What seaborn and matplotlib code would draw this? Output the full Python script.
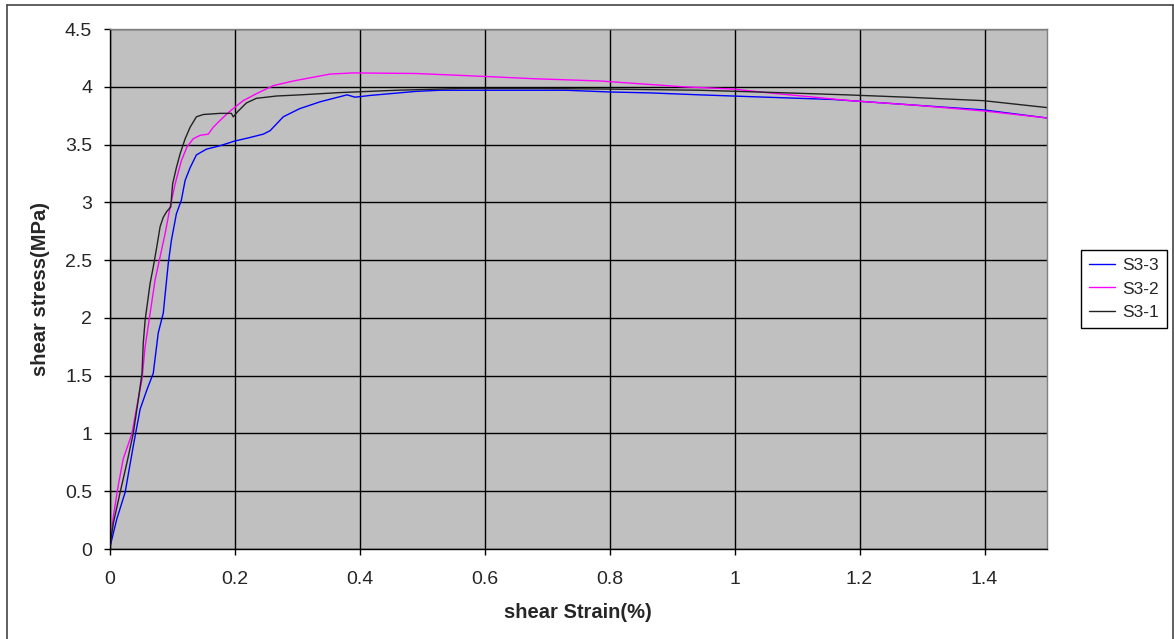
import matplotlib
matplotlib.use("Agg")
import matplotlib.pyplot as plt
from matplotlib.lines import Line2D
import numpy as np
import pandas as pd
import seaborn as sns

# shear strain (%) and shear stress (MPa) for each specimen
s31_strain = [0, 0.0064, 0.017, 0.028, 0.038, 0.046, 0.052, 0.054, 0.057, 0.060, 0.065,
              0.070, 0.0755, 0.081, 0.086, 0.0915, 0.098, 0.101, 0.107, 0.113, 0.121,
              0.129, 0.139, 0.150, 0.177, 0.195, 0.198, 0.206, 0.219, 0.235, 0.267,
              0.305, 0.369, 0.46, 0.561, 0.694, 0.80, 0.945, 1.067, 1.18, 1.275, 1.398, 1.5]
s31_stress = [0, 0.23, 0.49, 0.75, 1.0, 1.29, 1.52, 1.78, 1.98, 2.10, 2.30,
              2.44, 2.61, 2.79, 2.87, 2.92, 2.96, 3.16, 3.30, 3.42, 3.55,
              3.65, 3.74, 3.76, 3.77, 3.77, 3.74, 3.79, 3.86, 3.90, 3.92,
              3.93, 3.95, 3.97, 3.985, 3.985, 3.98, 3.97, 3.95, 3.93, 3.91, 3.88, 3.82]

s32_strain = [0, 0.0064, 0.014, 0.022, 0.036, 0.044, 0.052, 0.057, 0.065, 0.073, 0.081,
              0.089, 0.097, 0.105, 0.115, 0.124, 0.134, 0.145, 0.158, 0.166, 0.179,
              0.193, 0.214, 0.235, 0.262, 0.294, 0.353, 0.39, 0.49, 0.598, 0.678,
              0.785, 0.838, 0.918, 0.998, 1.05, 1.185, 1.29, 1.40, 1.5]
s32_stress = [0, 0.29, 0.55, 0.78, 1.0, 1.24, 1.47, 1.75, 2.04, 2.33, 2.53,
              2.73, 2.96, 3.16, 3.36, 3.48, 3.55, 3.58, 3.59, 3.65, 3.72,
              3.79, 3.88, 3.94, 4.01, 4.05, 4.11, 4.12, 4.115, 4.09, 4.07,
              4.05, 4.03, 4.0, 3.98, 3.95, 3.88, 3.84, 3.79, 3.73]

s33_strain = [0, 0.0117, 0.025, 0.038, 0.049, 0.060, 0.070, 0.078, 0.086, 0.094, 0.099,
              0.107, 0.115, 0.121, 0.129, 0.139, 0.155, 0.177, 0.2, 0.224, 0.246,
              0.257, 0.278, 0.304, 0.337, 0.38, 0.393, 0.417, 0.49, 0.529, 0.73,
              0.80, 0.865, 0.945, 1.05, 1.158, 1.265, 1.398, 1.5]
s33_stress = [0, 0.26, 0.49, 0.89, 1.21, 1.38, 1.52, 1.87, 2.04, 2.47, 2.67,
              2.90, 3.02, 3.19, 3.30, 3.41, 3.46, 3.49, 3.53, 3.56, 3.59,
              3.62, 3.74, 3.81, 3.87, 3.93, 3.91, 3.925, 3.96, 3.97, 3.97,
              3.955, 3.947, 3.93, 3.91, 3.89, 3.85, 3.80, 3.73]

series_names = ["S3-3", "S3-2", "S3-1"]
series_colors = ["#0000FF", "#FF00FF", "#222222"]
x_ticks = [0, 0.2, 0.4, 0.6, 0.8, 1.0, 1.2, 1.4]
x_tick_labels = ["0", "0.2", "0.4", "0.6", "0.8", "1", "1.2", "1.4"]
y_ticks = [0, 0.5, 1, 1.5, 2, 2.5, 3, 3.5, 4, 4.5]
y_tick_labels = ["0", "0.5", "1", "1.5", "2", "2.5", "3", "3.5", "4", "4.5"]

frames = []
for name, xs, ys in [("S3-3", s33_strain, s33_stress),
                     ("S3-2", s32_strain, s32_stress),
                     ("S3-1", s31_strain, s31_stress)]:
    frames.append(pd.DataFrame({"strain": xs, "stress": ys, "specimen": name}))
df = pd.concat(frames, ignore_index=True)

sns.set_style("white")
plt.rcParams["font.family"] = ["Liberation Sans", "DejaVu Sans"]

fig = plt.figure(figsize=(11.74, 6.39), dpi=100)
ax = fig.add_axes([109.5 / 1174, 90 / 639, (1047 - 109.5) / 1174, 520 / 639])
ax.set_facecolor("#C0C0C0")

sns.lineplot(data=df, x="strain", y="stress", hue="specimen",
             hue_order=series_names, palette=series_colors,
             estimator=None, sort=False, linewidth=1.0, ax=ax)

ax.set_xlim(0, 1.5)
ax.set_ylim(0, 4.5)
ax.set_xticks(x_ticks)
ax.set_xticklabels(x_tick_labels)
ax.set_yticks(y_ticks)
ax.set_yticklabels(y_tick_labels)
ax.grid(True, color="black", linewidth=1.0)
ax.set_axisbelow(True)
ax.tick_params(axis="both", direction="out", length=4.5, width=1.0,
               color="black", labelsize=14, bottom=True, left=True)
ax.tick_params(axis="x", pad=11)
ax.tick_params(axis="y", pad=8)

for side in ["top", "right"]:
    ax.spines[side].set_color("#808080")
    ax.spines[side].set_linewidth(1.0)
for side in ["left", "bottom"]:
    ax.spines[side].set_color("black")
    ax.spines[side].set_linewidth(1.0)

ax.set_xlabel("shear Strain(%)", fontsize=14.5, fontweight="bold", labelpad=11)
ax.set_ylabel("shear stress(MPa)", fontsize=14.5, fontweight="bold", labelpad=11)

handles, labels = ax.get_legend_handles_labels()
ax.legend(handles, labels, loc="center left",
          bbox_to_anchor=(1080.7 / 1174, 350 / 639), bbox_transform=fig.transFigure,
          frameon=True, fancybox=False, edgecolor="black", framealpha=1,
          fontsize=12.5, handlelength=1.55, handletextpad=0.4,
          borderpad=0.45, labelspacing=0.5, borderaxespad=0)
ax.get_legend().get_frame().set_linewidth(1.0)

# frame around the whole chart
for xs, ys in [([7 / 1174, 7 / 1174], [0, 634 / 639]),
               ([7 / 1174, 1173 / 1174], [634 / 639, 634 / 639]),
               ([1173 / 1174, 1173 / 1174], [0, 634 / 639])]:
    fig.add_artist(Line2D(xs, ys, transform=fig.transFigure, color="#444444", linewidth=1.2))

fig.savefig("out.png", dpi=100, facecolor="white")
